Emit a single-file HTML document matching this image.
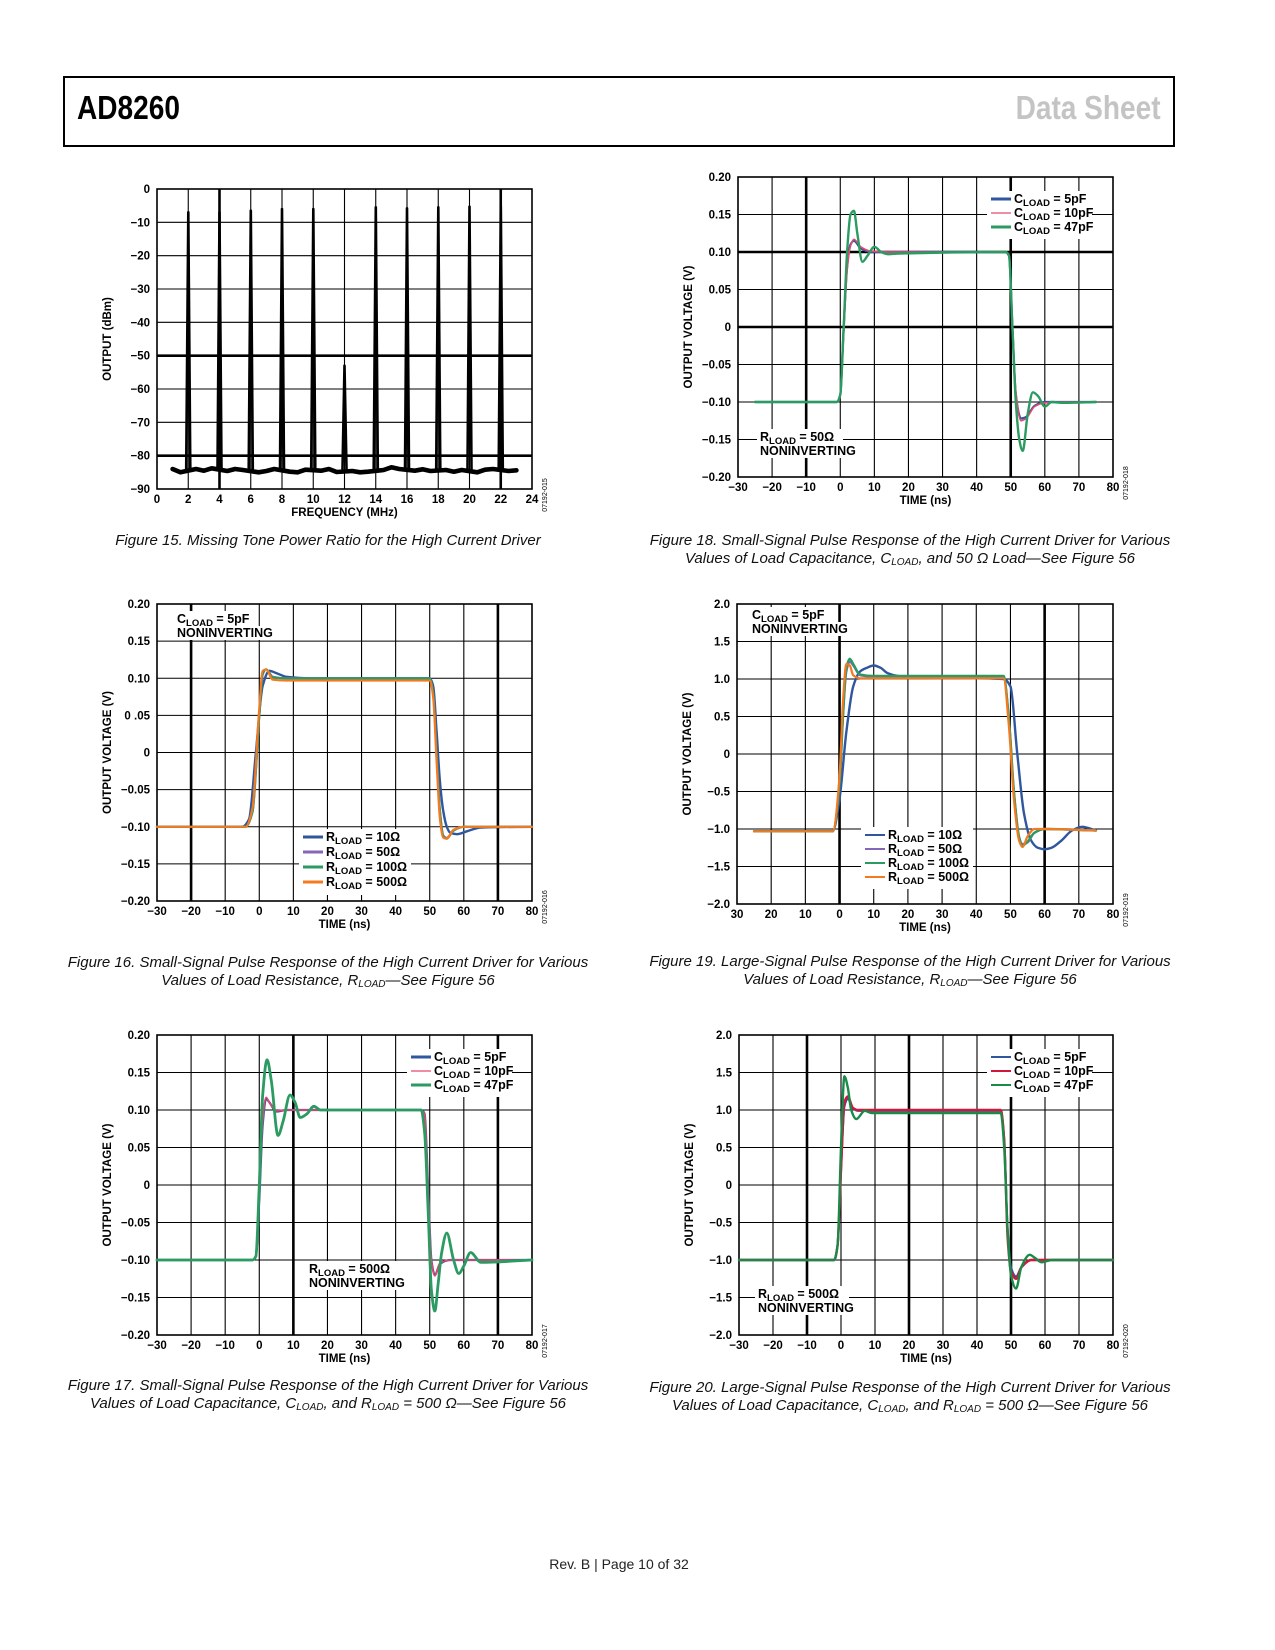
<!DOCTYPE html>
<html><head><meta charset="utf-8">
<style>
html,body{margin:0;padding:0;background:#fff;}
body{width:1275px;height:1650px;position:relative;overflow:hidden;font-family:"Liberation Sans",sans-serif;}
#hdr{position:absolute;left:63px;top:76px;width:1108px;height:67px;border:2px solid #000;}
#title{position:absolute;left:12px;top:11px;font-size:33px;font-weight:bold;font-family:"Liberation Sans Narrow","Liberation Sans",sans-serif;letter-spacing:0px;transform:scaleX(0.85);transform-origin:left top;}
#ds{position:absolute;right:12px;top:11px;font-size:33px;font-weight:bold;color:#c4c4c4;font-family:"Liberation Sans Narrow","Liberation Sans",sans-serif;transform:scaleX(0.85);transform-origin:right top;}
.cap{position:absolute;font-style:italic;font-size:15px;text-align:center;line-height:18px;color:#111;white-space:nowrap;}
.cap sub{font-size:10px;vertical-align:-2px;line-height:0;}
#foot{position:absolute;left:0;width:1238px;top:1556px;text-align:center;font-size:14px;color:#222;}
svg{position:absolute;left:0;top:0;}
svg text{font-family:"Liberation Sans",sans-serif;font-weight:bold;fill:#000;}
</style></head>
<body>
<div id="hdr">
<div id="title">AD8260</div>
<div id="ds">Data Sheet</div>
</div>

<div class="cap" style="left:64px;width:528px;top:532px">Figure 15. Missing Tone Power Ratio for the High Current Driver</div>
<div class="cap" style="left:640px;width:540px;top:532px">Figure 18. Small-Signal Pulse Response of the High Current Driver for Various<br>Values of Load Capacitance, C<sub>LOAD</sub>, and 50 Ω Load—See Figure 56</div>
<div class="cap" style="left:64px;width:528px;top:954px">Figure 16. Small-Signal Pulse Response of the High Current Driver for Various<br>Values of Load Resistance, R<sub>LOAD</sub>—See Figure 56</div>
<div class="cap" style="left:640px;width:540px;top:953px">Figure 19. Large-Signal Pulse Response of the High Current Driver for Various<br>Values of Load Resistance, R<sub>LOAD</sub>—See Figure 56</div>
<div class="cap" style="left:64px;width:528px;top:1377px">Figure 17. Small-Signal Pulse Response of the High Current Driver for Various<br>Values of Load Capacitance, C<sub>LOAD</sub>, and R<sub>LOAD</sub> = 500 Ω—See Figure 56</div>
<div class="cap" style="left:640px;width:540px;top:1379px">Figure 20. Large-Signal Pulse Response of the High Current Driver for Various<br>Values of Load Capacitance, C<sub>LOAD</sub>, and R<sub>LOAD</sub> = 500 Ω—See Figure 56</div>
<div id="foot">Rev. B | Page 10 of 32</div>

<svg id="page-svg" width="1275" height="1650"></svg>

<script>
// ---------- Figure 15 data ----------
const f15Tones = [2,4,6,8,10,12,14,16,18,20,22];
const f15ToneLevels = [-7,-7,-6.5,-6,-6,-53,-5.5,-5.8,-5.5,-5.3,-5.3];
const f15FloorFreq = [1,1.5,2.5,3,3.5,4.5,5,5.5,6.5,7,7.5,8.5,9,9.5,10.5,11,11.5,12.5,13,13.5,14.5,15,15.5,16.5,17,17.5,18.5,19,19.5,20.5,21,21.5,22.5,23];
const f15FloorLevels = [-84,-85,-84,-84.5,-83.8,-84.6,-84,-84.3,-85,-84.6,-84,-84.8,-85,-84.2,-84.5,-84,-84.9,-84.6,-85,-84.8,-84.3,-83.5,-84,-84.5,-84.1,-84.6,-84.3,-84.8,-84.3,-85,-84.2,-84,-84.6,-84.4];
const f15XTicks = ['0','2','4','6','8','10','12','14','16','18','20','22','24'];
const f15YTicks = ['0','−10','−20','−30','−40','−50','−60','−70','−80','−90'];

// ---------- Figure 18 data ----------
const f18T5 = [-25,-1,0,1,2,3,4,6,9,14,48.5,49.5,50.5,51.5,53,54.5,57,60,65,75];
const f18V5 = [-0.1,-0.1,-0.09,0.0,0.08,0.11,0.115,0.105,0.1,0.1,0.1,0.095,0.0,-0.09,-0.122,-0.12,-0.105,-0.1,-0.1,-0.1];
const f18T10 = [-25,-1,0,1,2,3,4,6,9,14,48.5,49.5,50.5,51.5,53,54.5,57,60,65,75];
const f18V10 = [-0.1,-0.1,-0.092,-0.01,0.075,0.108,0.117,0.107,0.101,0.1,0.1,0.096,0.005,-0.085,-0.125,-0.122,-0.106,-0.101,-0.1,-0.1];
const f18T47 = [-25,-1,0,1,2,3,4,5,6.5,8,10,12,14,17,48.5,49.5,50.5,51.5,52.5,53.5,55,56.5,58,60,62,65,75];
const f18V47 = [-0.1,-0.1,-0.09,0.0,0.1,0.15,0.155,0.125,0.087,0.095,0.107,0.1,0.097,0.098,0.1,0.095,0.0,-0.1,-0.15,-0.165,-0.115,-0.087,-0.092,-0.106,-0.1,-0.101,-0.1];
const smallXTicks = ['−30','−20','−10','0','10','20','30','40','50','60','70','80'];
const smallYTicks = ['0.20','0.15','0.10','0.05','0','−0.05','−0.10','−0.15','−0.20'];
const f16YTicks = ['0.20','0.15','0.10','0 .05','0','−0.05','−0.10','−0.15','−0.20'];

// ---------- Figure 16 data ----------
const f16T10 = [-30,-5,-3,-1,1,3,5,8,15,50,51,52,53,54,55,56,58,61,65,80];
const f16V10 = [-0.1,-0.1,-0.09,0.0,0.09,0.11,0.107,0.102,0.1,0.1,0.09,0.03,-0.04,-0.08,-0.1,-0.108,-0.11,-0.106,-0.101,-0.1];
const f16T50 = [-30,-4,-2,0,1,2,4,8,50,51,52,53,54,55,57,60,80];
const f16V50 = [-0.1,-0.1,-0.08,0.05,0.105,0.112,0.102,0.1,0.1,0.08,0.0,-0.08,-0.112,-0.115,-0.105,-0.1,-0.1];
const f16T100 = [-30,-4,-2,0,1,2,4,8,50,51,52,53,54,55,57,60,80];
const f16V100 = [-0.1,-0.1,-0.08,0.05,0.106,0.112,0.101,0.1,0.1,0.08,0.0,-0.08,-0.113,-0.116,-0.105,-0.1,-0.1];
const f16T500 = [-30,-4,-2,0,1,2,4,8,50,51,52,53,54,55,57,60,80];
const f16V500 = [-0.1,-0.1,-0.075,0.06,0.11,0.112,0.098,0.097,0.097,0.075,-0.01,-0.09,-0.115,-0.116,-0.104,-0.1,-0.1];

// ---------- Figure 17 data ----------
const f17T5 = [-30,-2,-1,0,1,2,3,5,8,47.5,48.5,49.5,50.5,51.5,53,56,80];
const f17V5 = [-0.1,-0.1,-0.095,-0.02,0.08,0.115,0.11,0.098,0.1,0.1,0.095,0.0,-0.1,-0.12,-0.105,-0.1,-0.1];
const f17T10 = [-30,-2,-1,0,1,2,3,5,8,47.5,48.5,49.5,50.5,51.5,53,56,80];
const f17V10 = [-0.1,-0.1,-0.095,-0.015,0.085,0.117,0.11,0.099,0.1,0.1,0.094,0.0,-0.1,-0.121,-0.104,-0.1,-0.1];
const f17T47 = [-30,-2,-1,0,1,2.3,3.5,5.5,7,9,10.5,12,14,16,18,21,47.5,48.5,49.5,50.5,51.5,52.5,53.5,55,57,58.5,60,62,65,80];
const f17V47 = [-0.1,-0.1,-0.095,0.0,0.12,0.167,0.14,0.066,0.085,0.12,0.11,0.09,0.095,0.105,0.1,0.1,0.1,0.07,-0.03,-0.14,-0.168,-0.13,-0.09,-0.064,-0.1,-0.118,-0.108,-0.09,-0.103,-0.1];

// ---------- Figure 19 data ----------
const f19XTicks = ['30','20','10','0','10','20','30','40','50','60','70','80'];
const largeYTicks = ['2.0','1.5','1.0','0.5','0','−0.5','−1.0','−1.5','−2.0'];
const f19T10 = [-25,-2,0,2,4,6,8,10,12,14,17,22,48,50,52,54,56,58,60,62,65,68,71,75];
const f19V10 = [-1.03,-1.03,-0.6,0.3,0.9,1.1,1.15,1.18,1.15,1.08,1.04,1.02,1.0,0.9,0.0,-0.8,-1.15,-1.25,-1.27,-1.25,-1.15,-1.02,-0.97,-1.02];
const f19T50 = [-25,-2,0,1,2,3,4,6,10,48,49.5,51,52.5,53.5,55,57,60,75];
const f19V50 = [-1.03,-1.03,-0.4,0.5,1.1,1.23,1.18,1.05,1.03,1.03,0.5,-0.5,-1.1,-1.2,-1.18,-1.05,-1.0,-1.02];
const f19T100 = [-25,-2,0,1,2,3,4,6,10,48,49.5,51,52.5,53.5,55,57,60,75];
const f19V100 = [-1.03,-1.03,-0.4,0.5,1.15,1.27,1.2,1.06,1.04,1.04,0.5,-0.5,-1.1,-1.22,-1.17,-1.05,-1.0,-1.02];
const f19T500 = [-25,-2,0,1,2,3,4,6,10,48,49.5,51,52.5,53.5,55,57,60,75];
const f19V500 = [-1.03,-1.03,-0.3,0.7,1.2,1.18,1.05,1.01,1.01,1.01,0.4,-0.6,-1.15,-1.24,-1.1,-1.0,-1.0,-1.02];

// ---------- Figure 20 data ----------
const f20T5 = [-30,-2,-1,0,1,2,3.5,5,10,47,48,49,50,51.5,53,56,80];
const f20V5 = [-1.0,-1.0,-0.8,0.2,1.05,1.15,1.02,0.99,0.99,0.99,0.6,-0.6,-1.1,-1.22,-1.1,-1.0,-1.0];
const f20T10 = [-30,-2,-1,0,1,2,3.5,5,10,47,48,49,50,51.5,53,56,80];
const f20V10 = [-1.0,-1.0,-0.8,0.2,1.1,1.18,1.03,1.0,1.0,1.0,0.6,-0.7,-1.15,-1.25,-1.1,-1.0,-1.0];
const f20T47 = [-30,-2,-1,0,1,2,3,4.5,7,9,12,47,48,49,50,51.5,53,55.5,57,59,62,80];
const f20V47 = [-1.0,-1.0,-0.8,0.5,1.45,1.3,1.0,0.88,0.99,0.96,0.96,0.96,0.5,-0.6,-1.2,-1.38,-1.1,-0.93,-0.97,-1.03,-1.0,-1.0];

const NS = 'http://www.w3.org/2000/svg';
const svg = document.getElementById('page-svg');
function mk(tag, attrs, parent){ const e=document.createElementNS(NS,tag); for(const k in attrs) e.setAttribute(k,attrs[k]); (parent||svg).appendChild(e); return e; }

function makeChart(c){
  const g = mk('g',{});
  
  
  const sx = v => c.L + (v - c.xmin)/(c.xmax - c.xmin)*(c.R - c.L);
  const sy = v => c.B - (v - c.ymin)/(c.ymax - c.ymin)*(c.B - c.T);
  c.sx = sx; c.sy = sy;
  const nx = Math.round((c.xmax-c.xmin)/c.xstep), ny = Math.round((c.ymax-c.ymin)/c.ystep);
  for(let i=1;i<nx;i++){
    const v=c.xmin+i*c.xstep;
    const ln = mk('line',{x1:sx(v),x2:sx(v),y1:c.T,y2:c.B,stroke:'#000','stroke-width':(c.thickX||[]).includes(v)?2.6:1.1},g);
    
    
  }
  for(let i=1;i<ny;i++){
    const v=c.ymin+i*c.ystep;
    const ln = mk('line',{x1:c.L,x2:c.R,y1:sy(v),y2:sy(v),stroke:'#000','stroke-width':(c.thickY||[]).includes(+v.toFixed(3))?2.6:1.1},g);
    
    
  }
  const fr = mk('rect',{x:c.L,y:c.T,width:c.R-c.L,height:c.B-c.T,fill:'none',stroke:'#000','stroke-width':1.6},g);
  
  
  c.xTicks.forEach((t,i)=>{
    const x = sx(c.xmin+i*c.xstep);
    const tx = mk('text',{x:x,y:c.B+14,'font-size':11.5,'text-anchor':'middle'},g);
    tx.textContent=t;
    
    
  });
  c.yTicks.forEach((t,i)=>{
    const y = sy(c.ymax-i*c.ystep);
    const tx = mk('text',{x:c.L-7,y:y+4,'font-size':11.5,'text-anchor':'end'},g);
    tx.textContent=t;
    
    
  });
  const xt = mk('text',{x:(c.L+c.R)/2,y:c.B+27,'font-size':11.5,'text-anchor':'middle'},g);
  xt.textContent=c.xTitle;
  
  
  const yx=c.L-46, yy=(c.T+c.B)/2;
  const yt = mk('text',{x:yx,y:yy,'font-size':11.5,'text-anchor':'middle',transform:`rotate(-90 ${yx} ${yy})`},g);
  yt.textContent=c.yTitle;
  
  
  const idx=c.R+15, idy=c.B+6;
  const id = mk('text',{x:idx,y:idy,'font-size':7,'text-anchor':'middle',transform:`rotate(-90 ${idx} ${idy})`,style:'font-weight:normal'},g);
  id.textContent=c.id;
  
  
  c.g = g;
  return c;
}

// monotone cubic (Fritsch-Carlson) path
function monotonePath(xs, ys){
  const n = xs.length;
  if(n<3){ return xs.map((x,i)=>(i?'L':'M')+x.toFixed(1)+','+ys[i].toFixed(1)).join(''); }
  const dx=[], m=[];
  for(let i=0;i<n-1;i++){ dx.push(xs[i+1]-xs[i]); m.push((ys[i+1]-ys[i])/(dx[i]||1e-6)); }
  const t=[m[0]];
  for(let i=1;i<n-1;i++){
    if(m[i-1]*m[i]<=0) t.push(0);
    else { const w1=2*dx[i]+dx[i-1], w2=dx[i]+2*dx[i-1]; t.push((w1+w2)/(w1/m[i-1]+w2/m[i])); }
  }
  t.push(m[n-2]);
  let d='M'+xs[0].toFixed(1)+','+ys[0].toFixed(1);
  for(let i=0;i<n-1;i++){
    const h=dx[i]/3;
    d+='C'+(xs[i]+h).toFixed(1)+','+(ys[i]+t[i]*h).toFixed(1)+' '+(xs[i+1]-h).toFixed(1)+','+(ys[i+1]-t[i+1]*h).toFixed(1)+' '+xs[i+1].toFixed(1)+','+ys[i+1].toFixed(1);
  }
  return d;
}

function drawSeries(c, ts, vs, color, w, name, linear){
  const xs = ts.map(c.sx), ys = vs.map(c.sy);
  const d = linear ? xs.map((x,i)=>(i?'L':'M')+x.toFixed(1)+','+ys[i].toFixed(1)).join('') : monotonePath(xs, ys);
  const p = mk('path',{d:d,fill:'none',stroke:color,'stroke-width':w,'stroke-linejoin':'round','stroke-linecap':'round'},c.g);
  
  
}

function label(c, x, y, sym, rest, w){
  const g = mk('g',{},c.g);
  
  
  mk('rect',{x:x-3,y:y-12,width:w,height:16,fill:'#fff'},g);
  const t = mk('text',{x:x,y:y,'font-size':12.5},g);
  const a = mk('tspan',{},t); a.textContent=sym;
  const b = mk('tspan',{'font-size':9.5,dy:3},t); b.textContent='LOAD';
  const r = mk('tspan',{dy:-3},t); r.textContent=rest;
  return g;
}
function plainText(c,x,y,txt,w,name){
  mk('rect',{x:x-3,y:y-11,width:w,height:14,fill:'#fff'},c.g);
  const t = mk('text',{x:x,y:y,'font-size':12.5},c.g);
  t.textContent=txt;
  
  
}
function legend(c,x,y,dy,entries,w){
  const g = mk('g',{},c.g);
  
  
  mk('rect',{x:x-4,y:y-11,width:w,height:dy*entries.length+6,fill:'#fff'},g);
  entries.forEach((e,i)=>{
    const yy=y+i*dy;
    const ln = mk('line',{x1:x,x2:x+20,y1:yy-3,y2:yy-3,stroke:e[1],'stroke-width':e[2]},g);
    
    
    const t = mk('text',{x:x+23,y:yy+1,'font-size':12.5},g);
    
    
    const a=mk('tspan',{},t); a.textContent=e[0][0];
    const b=mk('tspan',{'font-size':9.5,dy:3},t); b.textContent='LOAD';
    const r=mk('tspan',{dy:-3},t); r.textContent=e[0][1];
  });
}

const BLUE='#2f569f', PINK='#e8476e', GREEN='#2b9b62', PURPLE='#8466bb', ORANGE='#f47a20', RED='#d3173a', DGREEN='#1b8a48';

// Figure 15
const c15 = makeChart({name:'figure-15-chart',L:157,T:189,R:532,B:489,xmin:0,xmax:24,xstep:2,ymin:-90,ymax:0,ystep:10,
  xTicks:f15XTicks,yTicks:f15YTicks,xTitle:'FREQUENCY (MHz)',yTitle:'OUTPUT (dBm)',id:'07192-015',thickX:[4,22],thickY:[-50,-80]});
drawSeries(c15,f15FloorFreq,f15FloorLevels,'#000',4.6,'noise-floor',true);
f15Tones.forEach((f,i)=>{
  drawSeries(c15,[f-0.13,f,f+0.13],[-84,f15ToneLevels[i],-84],'#000',2.6,'tone-'+f+'mhz',true);
});

// Figure 18
const c18 = makeChart({name:'figure-18-chart',L:738,T:177,R:1113,B:477,xmin:-30,xmax:80,xstep:10,ymin:-0.2,ymax:0.2,ystep:0.05,
  xTicks:smallXTicks,yTicks:smallYTicks,xTitle:'TIME (ns)',yTitle:'OUTPUT VOLTAGE (V)',id:'07192-018',thickX:[-10,50],thickY:[0.1,0]});
drawSeries(c18,f18T5,f18V5,BLUE,2.2,'series-cload-5pf');
drawSeries(c18,f18T10,f18V10,PINK,1.6,'series-cload-10pf');
drawSeries(c18,f18T47,f18V47,GREEN,2.4,'series-cload-47pf');
legend(c18,991,202,14,[[['C',' = 5pF'],BLUE,3],[['C',' = 10pF'],PINK,1.2],[['C',' = 47pF'],GREEN,3]],105);
label(c18,760,441,'R',' = 50Ω',86);
plainText(c18,760,455,'NONINVERTING',104,'mode-label');

// Figure 16
const c16 = makeChart({name:'figure-16-chart',L:157,T:604,R:532,B:901,xmin:-30,xmax:80,xstep:10,ymin:-0.2,ymax:0.2,ystep:0.05,
  xTicks:smallXTicks,yTicks:f16YTicks,xTitle:'TIME (ns)',yTitle:'OUTPUT VOLTAGE (V)',id:'07192-016',thickX:[-20,70]});
drawSeries(c16,f16T10,f16V10,BLUE,2.4,'series-rload-10');
drawSeries(c16,f16T50,f16V50,PURPLE,2.2,'series-rload-50');
drawSeries(c16,f16T100,f16V100,GREEN,2.2,'series-rload-100');
drawSeries(c16,f16T500,f16V500,ORANGE,2.2,'series-rload-500');
label(c16,177,623,'C',' = 5pF',80);
plainText(c16,177,637,'NONINVERTING',104,'mode-label');
legend(c16,303,840,15,[[['R',' = 10Ω'],BLUE,3],[['R',' = 50Ω'],PURPLE,3],[['R',' = 100Ω'],GREEN,3],[['R',' = 500Ω'],ORANGE,3]],112);

// Figure 19
const c19 = makeChart({name:'figure-19-chart',L:737,T:604,R:1113,B:904,xmin:-30,xmax:80,xstep:10,ymin:-2,ymax:2,ystep:0.5,
  xTicks:f19XTicks,yTicks:largeYTicks,xTitle:'TIME (ns)',yTitle:'OUTPUT VOLTAGE (V)',id:'07192-019',thickX:[0,60]});
drawSeries(c19,f19T10,f19V10,BLUE,2.4,'series-rload-10');
drawSeries(c19,f19T50,f19V50,PURPLE,2.2,'series-rload-50');
drawSeries(c19,f19T100,f19V100,GREEN,2.4,'series-rload-100');
drawSeries(c19,f19T500,f19V500,ORANGE,2.2,'series-rload-500');
label(c19,752,619,'C',' = 5pF',80);
plainText(c19,752,633,'NONINVERTING',104,'mode-label');
legend(c19,865,838,14,[[['R',' = 10Ω'],BLUE,2],[['R',' = 50Ω'],PURPLE,2],[['R',' = 100Ω'],GREEN,2],[['R',' = 500Ω'],ORANGE,2]],112);

// Figure 17
const c17 = makeChart({name:'figure-17-chart',L:157,T:1035,R:532,B:1335,xmin:-30,xmax:80,xstep:10,ymin:-0.2,ymax:0.2,ystep:0.05,
  xTicks:smallXTicks,yTicks:smallYTicks,xTitle:'TIME (ns)',yTitle:'OUTPUT VOLTAGE (V)',id:'07192-017',thickX:[10,70]});
drawSeries(c17,f17T5,f17V5,BLUE,2.2,'series-cload-5pf');
drawSeries(c17,f17T10,f17V10,PINK,1.6,'series-cload-10pf');
drawSeries(c17,f17T47,f17V47,GREEN,2.8,'series-cload-47pf');
legend(c17,411,1060,14,[[['C',' = 5pF'],BLUE,3],[['C',' = 10pF'],PINK,1.2],[['C',' = 47pF'],GREEN,3]],105);
label(c17,309,1273,'R',' = 500Ω',94);
plainText(c17,309,1287,'NONINVERTING',104,'mode-label');

// Figure 20
const c20 = makeChart({name:'figure-20-chart',L:739,T:1035,R:1113,B:1335,xmin:-30,xmax:80,xstep:10,ymin:-2,ymax:2,ystep:0.5,
  xTicks:smallXTicks,yTicks:largeYTicks,xTitle:'TIME (ns)',yTitle:'OUTPUT VOLTAGE (V)',id:'07192-020',thickX:[-10,20,50]});
drawSeries(c20,f20T5,f20V5,BLUE,2.2,'series-cload-5pf');
drawSeries(c20,f20T10,f20V10,RED,2.4,'series-cload-10pf');
drawSeries(c20,f20T47,f20V47,DGREEN,2.4,'series-cload-47pf');
legend(c20,991,1060,14,[[['C',' = 5pF'],BLUE,2],[['C',' = 10pF'],RED,2],[['C',' = 47pF'],DGREEN,2]],105);
label(c20,758,1298,'R',' = 500Ω',94);
plainText(c20,758,1312,'NONINVERTING',104,'mode-label');
</script>
</body></html>
